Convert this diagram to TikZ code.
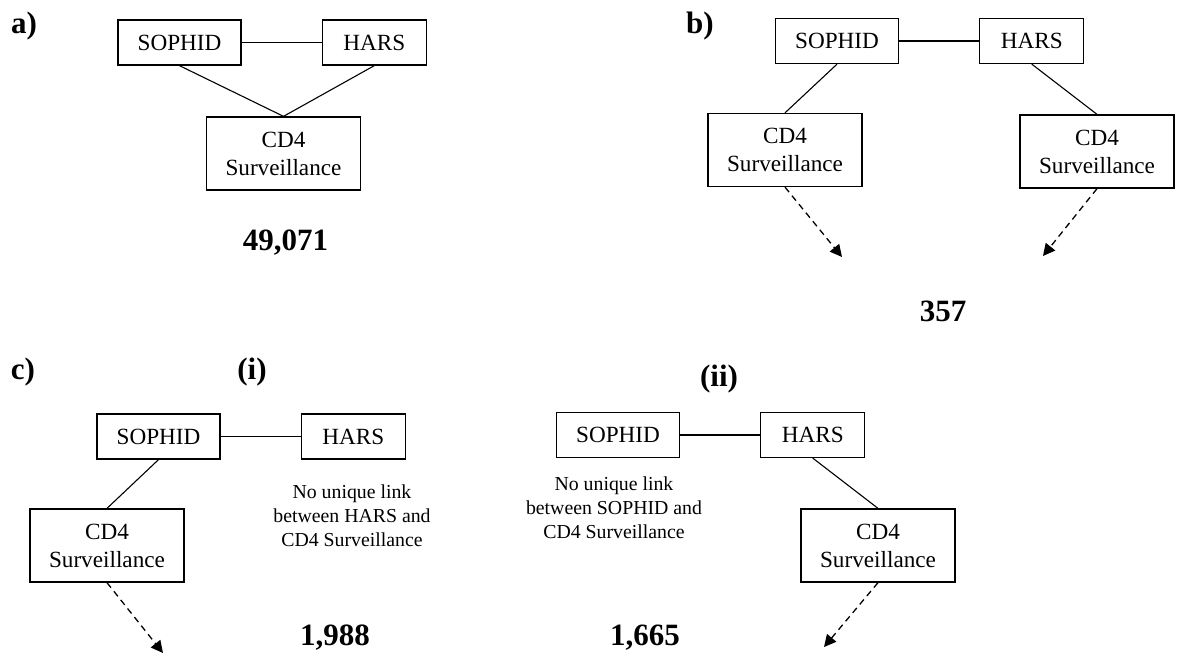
\documentclass[tikz,border=0pt]{standalone}
\usepackage{fontspec}
\setmainfont{Liberation Serif}
\usepackage{xcolor}
\usepackage{tikz}
\usetikzlibrary{positioning, arrows.meta}

\begin{document}
\begin{tikzpicture}[
    x=0.5pt, y=-0.5pt,
    box/.style={
        rectangle,
        draw,
        line width=0.65pt,
        inner sep=0pt,
        minimum height=22.5pt,
        align=center,
        font=\fontsize{11.6}{14}\selectfont
    },
    sophid/.style={box, minimum width=61.5pt},
    hars/.style={box, minimum width=52pt},
    cdbox/.style={box, minimum width=77pt, minimum height=36.5pt},
    note/.style={
        align=center,
        font=\fontsize{9.9}{12}\selectfont
    },
    tag/.style={font=\fontsize{15.5}{18}\selectfont\bfseries},
    link/.style={line width=0.55pt},
    arrow/.style={
        line width=0.65pt,
        dash pattern=on 3.2pt off 2.3pt,
        -{Triangle[length=6pt, width=6pt]}
    }
]
\useasboundingbox (0,0) rectangle (1178,654);

% Panel a

\node[tag] (tagA) at (24,26) {a)};
\node[sophid] (sophidA) at (179.5,42.5) {SOPHID};
\node[hars, right=40pt of sophidA] (harsA) {HARS};
\node[cdbox] (cdA) at (283.5,153.5) {CD4\\Surveillance};
\node[tag] (numA) at (285.5,243) {49,071};

\draw[link] (sophidA)--(harsA);
\draw[link] (sophidA.south)--(cdA.north);
\draw[link] (harsA.south)--(cdA.north);

% Panel b

\node[tag] (tagB) at (700,26) {b)};
\node[sophid] (sophidB) at (837,41) {SOPHID};
\node[hars, right=40pt of sophidB] (harsB) {HARS};
\node[cdbox] (cdBl) at (785,150) {CD4\\Surveillance};
\node[cdbox] (cdBr) at (1097,151.5) {CD4\\Surveillance};
\node[tag] (numB) at (943,311) {357};
\coordinate (endBl) at (842,257);
\coordinate (endBr) at (1043,256);

\draw[link] (sophidB)--(harsB);
\draw[link] (sophidB.south)--(cdBl.north);
\draw[link] (harsB.south)--(cdBr.north);
\draw[arrow] (cdBl.south)--(endBl);
\draw[arrow] (cdBr.south)--(endBr);

% Panel c (i)

\node[tag] (tagC) at (23,372) {c)};
\node[tag] (tagCi) at (252,372) {(i)};
\node[sophid] (sophidCi) at (158.5,436.5) {SOPHID};
\node[hars, right=40pt of sophidCi] (harsCi) {HARS};
\node[cdbox] (cdCi) at (107,545.5) {CD4\\Surveillance};
\node[note] (noteCi) at (352,516) {No unique link\\between HARS and\\CD4 Surveillance};
\node[tag] (numCi) at (335,638) {1,988};
\coordinate (endCi) at (163,653);

\draw[link] (sophidCi)--(harsCi);
\draw[link] (sophidCi.south)--(cdCi.north);
\draw[arrow] (cdCi.south)--(endCi);

% Panel c (ii)

\node[tag] (tagCii) at (719,379) {(ii)};
\node[sophid] (sophidCii) at (618,435) {SOPHID};
\node[hars, right=40pt of sophidCii] (harsCii) {HARS};
\node[cdbox] (cdCii) at (878,545.5) {CD4\\Surveillance};
\node[note] (noteCii) at (614,508) {No unique link\\between SOPHID and\\CD4 Surveillance};
\node[tag] (numCii) at (645,638) {1,665};
\coordinate (endCii) at (824,647);

\draw[link] (sophidCii)--(harsCii);
\draw[link] (harsCii.south)--(cdCii.north);
\draw[arrow] (cdCii.south)--(endCii);

\end{tikzpicture}
\end{document}
